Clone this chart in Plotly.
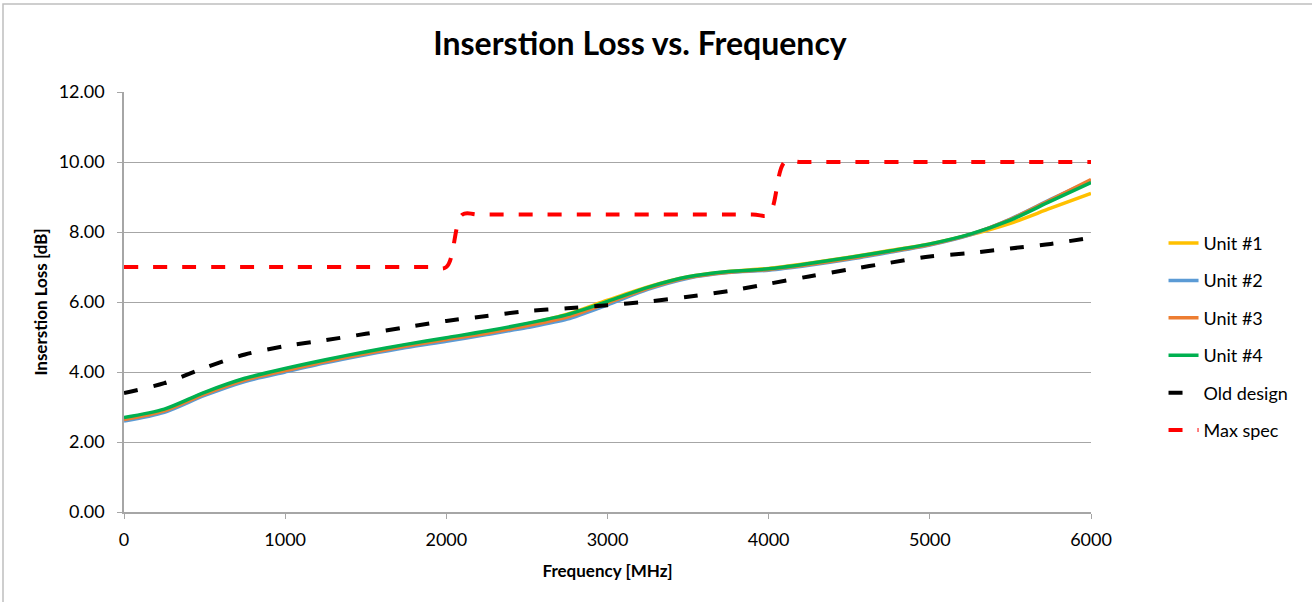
import plotly.graph_objects as go

# Frequency grid (MHz) for the measured units and the old design
freq = [0, 250, 500, 750, 1000, 1250, 1500, 1750, 2000, 2250, 2500, 2750,
        3000, 3250, 3500, 3750, 4000, 4250, 4500, 4750, 5000, 5250, 5500, 5750, 6000]

unit1 = [2.68, 2.92, 3.40, 3.80, 4.08, 4.33, 4.56, 4.77, 4.96, 5.15, 5.37, 5.65,
         6.05, 6.43, 6.72, 6.87, 6.96, 7.11, 7.28, 7.47, 7.66, 7.92, 8.25, 8.68, 9.10]
unit2 = [2.60, 2.85, 3.33, 3.73, 4.00, 4.26, 4.49, 4.70, 4.88, 5.07, 5.27, 5.51,
         5.92, 6.36, 6.68, 6.84, 6.91, 7.05, 7.22, 7.42, 7.63, 7.92, 8.37, 8.93, 9.47]
unit3 = [2.64, 2.89, 3.37, 3.77, 4.04, 4.30, 4.53, 4.74, 4.93, 5.11, 5.32, 5.57,
         5.97, 6.39, 6.70, 6.85, 6.93, 7.07, 7.24, 7.44, 7.64, 7.93, 8.36, 8.92, 9.50]
unit4 = [2.70, 2.94, 3.42, 3.82, 4.10, 4.35, 4.58, 4.79, 4.98, 5.17, 5.39, 5.64,
         6.02, 6.42, 6.72, 6.87, 6.95, 7.10, 7.27, 7.46, 7.66, 7.94, 8.34, 8.88, 9.41]
old_design = [3.40, 3.68, 4.12, 4.50, 4.74, 4.91, 5.09, 5.28, 5.46, 5.60, 5.74, 5.82,
              5.91, 6.01, 6.15, 6.31, 6.52, 6.73, 6.93, 7.12, 7.30, 7.40, 7.53, 7.66, 7.84]

# Maximum specification steps
spec_freq = [0, 1000, 1900, 2000, 2100, 2200, 3000, 3900, 4000, 4100, 4200, 5000, 6000]
max_spec = [7.0, 7.0, 7.0, 7.0, 8.5, 8.5, 8.5, 8.5, 8.5, 10.0, 10.0, 10.0, 10.0]

series = [
    ("Unit #1", unit1, "#FFC000"),
    ("Unit #2", unit2, "#5B9BD5"),
    ("Unit #3", unit3, "#ED7D31"),
    ("Unit #4", unit4, "#00B050"),
]

FONT = "Lato, Carlito, Calibri, sans-serif"

fig = go.Figure()
for i, (name, vals, color) in enumerate(series):
    fig.add_trace(go.Scatter(
        x=freq, y=vals, name=name, mode="lines", legendgroup=f"g{i}",
        line=dict(color=color, width=3.5, shape="spline", smoothing=0.8),
    ))
fig.add_trace(go.Scatter(
    x=freq, y=old_design, name="Old design", mode="lines", legendgroup="g4",
    line=dict(color="#000000", width=4, dash="14px,16px", shape="spline", smoothing=0.8),
))
fig.add_trace(go.Scatter(
    x=spec_freq, y=max_spec, name="Max spec", mode="lines", legendgroup="g5",
    line=dict(color="#FF0000", width=4, dash="14px,15px", shape="spline", smoothing=1.0),
))

# Chart area border
fig.add_shape(type="rect", xref="paper", yref="paper",
              x0=(3 - 124) / 967, x1=(1330 - 124) / 967,
              y0=(512 - 620) / 420, y1=(512 - 4) / 420,
              line=dict(color="#BFBFBF", width=1.5), fillcolor="rgba(0,0,0,0)", layer="below")

fig.update_layout(
    width=1312, height=602,
    margin=dict(l=124, r=221, t=92, b=90),
    paper_bgcolor="white", plot_bgcolor="white",
    font=dict(family=FONT, color="#000000", size=18),
    title=dict(text="<b>Inserstion Loss vs. Frequency</b>", x=0.4878, xanchor="center",
               y=1 - 44 / 602, yanchor="middle",
               font=dict(family=FONT, size=32, color="#000000")),
    showlegend=True,
    legend=dict(x=1.075, xanchor="left", y=0.417, yanchor="middle",
                traceorder="grouped", tracegroupgap=11,
                font=dict(family=FONT, size=18, color="#000000"),
                bgcolor="rgba(0,0,0,0)"),
    xaxis=dict(
        range=[0, 6000], tickmode="array", tickvals=[0, 1000, 2000, 3000, 4000, 5000, 6000],
        showgrid=False, zeroline=False, showline=True, linecolor="#A6A6A6", linewidth=1.5,
        ticks="outside", ticklen=5, tickcolor="#A6A6A6", ticklabelstandoff=6,
        tickfont=dict(family=FONT, size=18, color="#000000"),
        title=dict(text="<b>Frequency [MHz]</b>", font=dict(family=FONT, size=17), standoff=16),
    ),
    yaxis=dict(
        range=[0, 12], tickmode="array", tickvals=[0, 2, 4, 6, 8, 10, 12], tickformat=".2f",
        showgrid=True, gridcolor="#A6A6A6", gridwidth=1.2, zeroline=False,
        showline=True, linecolor="#A6A6A6", linewidth=1.5,
        ticks="outside", ticklen=5, tickcolor="#A6A6A6", ticklabelstandoff=9,
        tickfont=dict(family=FONT, size=18, color="#000000"),
        title=dict(text="<b>Inserstion Loss [dB]</b>", font=dict(family=FONT, size=17), standoff=7),
    ),
)

fig.write_html("out.html")
